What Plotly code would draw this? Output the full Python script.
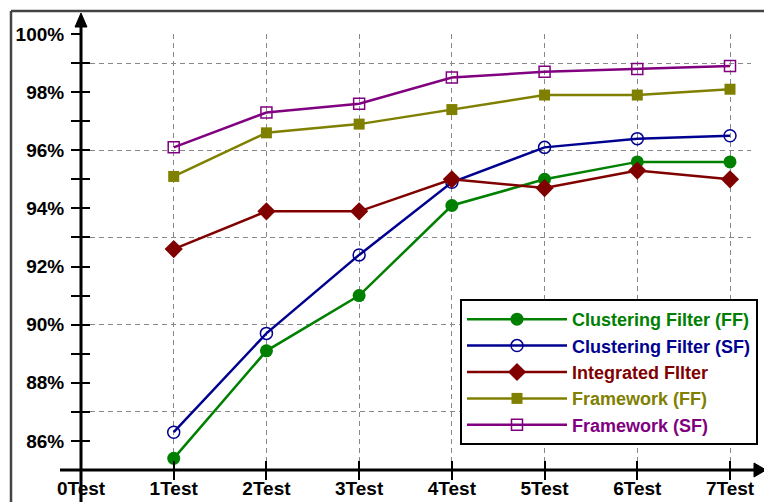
import plotly.graph_objects as go

# ---------------- data ----------------
TEST_TICKS = [0, 1, 2, 3, 4, 5, 6, 7]
TEST_LABELS = ["0Test", "1Test", "2Test", "3Test", "4Test", "5Test", "6Test", "7Test"]
TESTS = [1, 2, 3, 4, 5, 6, 7]

Y_TICKS = list(range(86, 101))
Y_LABELS = [f"{v}%" if v % 2 == 0 else "" for v in Y_TICKS]
Y_GRID = [87, 90, 93, 96, 99]

clustering_ff = [85.4, 89.1, 91.0, 94.1, 95.0, 95.6, 95.6]
clustering_sf = [86.3, 89.7, 92.4, 94.9, 96.1, 96.4, 96.5]
integrated = [92.6, 93.9, 93.9, 95.0, 94.7, 95.3, 95.0]
framework_ff = [95.1, 96.6, 96.9, 97.4, 97.9, 97.9, 98.1]
framework_sf = [96.1, 97.3, 97.6, 98.5, 98.7, 98.8, 98.9]

SERIES = [
    ("Clustering Filter (FF)", clustering_ff, "#008000", "circle", 13),
    ("Clustering Filter (SF)", clustering_sf, "#000090", "circle-open", 12),
    ("Integrated FIlter", integrated, "#800000", "diamond", 14),
    ("Framework (FF)", framework_ff, "#808000", "square", 11),
    ("Framework (SF)", framework_sf, "#800080", "square-open", 11),
]

# ---------------- layout geometry ----------------
W, H = 764, 502
L, R, T, B = 81, 13, 34, 32
PW, PH = W - L - R, H - T - B
X_MAX = 7 * PW / (730 - L)
FONT = "Liberation Sans, Arial, sans-serif"


def px(x):
    return (x - L) / PW


def py(y):
    return (H - B - y) / PH


fig = go.Figure()

for name, vals, color, symbol, size in SERIES:
    open_sym = symbol.endswith("open")
    fig.add_trace(go.Scatter(
        x=TESTS, y=vals, mode="lines+markers",
        name=f'<span style="color:{color}">{name}</span>',
        line=dict(color=color, width=2.5),
        marker=dict(symbol=symbol, size=size, color=color,
                    line=dict(color=color, width=1.5 if open_sym else 0)),
        cliponaxis=False,
    ))

# empty traces so the overlay axes are drawn
fig.add_trace(go.Scatter(x=[], y=[], xaxis="x", yaxis="y2", showlegend=False, hoverinfo="skip"))
fig.add_trace(go.Scatter(x=[], y=[], xaxis="x", yaxis="y3", showlegend=False, hoverinfo="skip"))
fig.add_trace(go.Scatter(x=[], y=[], xaxis="x2", yaxis="y", showlegend=False, hoverinfo="skip"))

tickfont = dict(family=FONT, size=19, color="black", weight="bold")

fig.update_layout(
    template="none",
    width=W, height=H,
    margin=dict(l=L, r=R, t=T, b=B, pad=0, autoexpand=False),
    paper_bgcolor="white", plot_bgcolor="white",
    font=dict(family=FONT),
    xaxis=dict(
        range=[0, X_MAX], tickvals=TEST_TICKS, ticktext=TEST_LABELS, automargin=False,
        ticks="inside", ticklen=9, tickwidth=2, tickcolor="black",
        tickfont=tickfont, ticklabelstandoff=5, showline=False, zeroline=False,
        showgrid=True, gridcolor="#888888", gridwidth=1, griddash="5px,4px",
    ),
    xaxis2=dict(
        overlaying="x", matches="x", anchor="y", side="bottom", automargin=False,
        tickvals=TEST_TICKS, ticks="outside", ticklen=9, tickwidth=2, tickcolor="black",
        showticklabels=False, showgrid=False, zeroline=False, showline=False,
    ),
    yaxis=dict(
        range=[85, 100], tickvals=Y_GRID, ticks="", showticklabels=False, automargin=False,
        showgrid=True, gridcolor="#888888", gridwidth=1, griddash="5px,4px",
        zeroline=False, showline=False,
    ),
    yaxis2=dict(
        overlaying="y", matches="y", anchor="x", side="left", automargin=False,
        tickvals=Y_TICKS, ticktext=Y_LABELS,
        ticks="outside", ticklen=9, tickwidth=2, tickcolor="black",
        tickfont=tickfont, ticklabelstandoff=3,
        showgrid=False, zeroline=False, showline=False,
    ),
    yaxis3=dict(
        overlaying="y", matches="y", anchor="x", side="left", automargin=False,
        tickvals=Y_TICKS, ticks="inside", ticklen=9, tickwidth=2, tickcolor="black",
        showticklabels=False, showgrid=False, zeroline=False, showline=False,
    ),
    legend=dict(
        x=px(758), y=py(372), xanchor="right", yanchor="middle",
        bgcolor="white", bordercolor="black", borderwidth=2,
        font=dict(family=FONT, size=18, weight="bold"),
        itemwidth=100, tracegroupgap=0,
    ),
    showlegend=True,
)

# axes lines with arrow heads, and outer frame (decoration)
shapes = [
    dict(type="line", xref="paper", yref="paper", x0=px(11), x1=px(W + 5), y0=py(11), y1=py(11),
         line=dict(color="#444444", width=2.5)),
    dict(type="line", xref="paper", yref="paper", x0=px(11), x1=px(11), y0=py(11), y1=py(H + 5),
         line=dict(color="#444444", width=2.5)),
    dict(type="line", xref="paper", yref="paper", x0=px(60), x1=px(756), y0=py(470), y1=py(470),
         line=dict(color="black", width=3)),
    dict(type="line", xref="paper", yref="paper", x0=px(L), x1=px(L), y0=py(H + 5), y1=py(25),
         line=dict(color="black", width=3)),
    dict(type="path", xref="paper", yref="paper",
         path=f"M {px(754)} {py(463)} L {px(766)} {py(470)} L {px(754)} {py(477)} Z",
         fillcolor="black", line=dict(color="black", width=1)),
    dict(type="path", xref="paper", yref="paper",
         path=f"M {px(75)} {py(27)} L {px(L)} {py(13)} L {px(87)} {py(27)} Z",
         fillcolor="black", line=dict(color="black", width=1)),
]
fig.update_layout(shapes=shapes)

fig.write_html("out.html", config={"displayModeBar": False},
               post_script="document.body.style.margin='0';")
